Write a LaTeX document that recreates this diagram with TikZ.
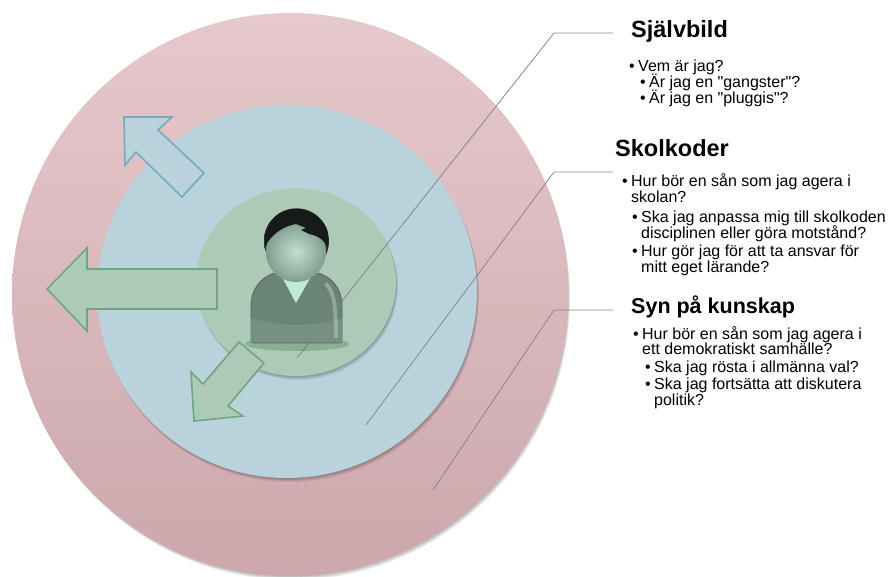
\documentclass[tikz,border=0pt]{standalone}
\usepackage{fontspec}
\setmainfont{Liberation Sans}

\definecolor{pinktop}{RGB}{230,201,204}
\definecolor{pinkbot}{RGB}{204,167,172}
\definecolor{bluering}{RGB}{185,211,220}
\definecolor{greenring}{RGB}{173,202,183}
\definecolor{blueedge}{RGB}{118,170,188}
\definecolor{greenedge}{RGB}{110,166,128}
\definecolor{leadgray}{RGB}{135,135,135}
\definecolor{bodygray}{RGB}{106,132,118}
\definecolor{bodylow}{RGB}{118,144,130}
\definecolor{bodyedge}{RGB}{84,104,94}
\definecolor{collar}{RGB}{196,232,214}
\definecolor{hairtop}{RGB}{72,80,76}
\definecolor{hairbot}{RGB}{22,26,24}
\definecolor{facelight}{RGB}{196,222,208}
\definecolor{facedark}{RGB}{128,158,143}

\newcommand{\bulletmark}{\llap{\textbullet\hspace{3.5pt}}}
\newcommand{\qt}{\textquotedbl}

\begin{document}
\begin{tikzpicture}[x=1pt, y=-1pt, line join=miter,
    ringshadow/.style = {fill=black, opacity=0.07},
    bluearrow/.style = {draw=blueedge, fill=bluering, line width=1.6pt},
    greenarrow/.style = {draw=greenedge, fill=greenring, line width=1.6pt},
    leader/.style = {draw=leadgray, line width=0.8pt},
    heading/.style = {anchor=base west, inner sep=0pt, font=\bfseries\fontsize{23.5}{24}\selectfont},
    bodytext/.style = {anchor=base west, inner sep=0pt, font=\fontsize{16}{16}\selectfont}]
  \useasboundingbox (0,0) rectangle (889,577);

  % rings
  \foreach \s in {1,2,3,4}
    \fill[ringshadow] (290+0.5*\s,294.5+\s) ellipse [x radius=278pt, y radius=281.5pt];
  \path[top color=pinktop, bottom color=pinkbot] (290,294.5) ellipse [x radius=278pt, y radius=281.5pt];
  \foreach \s in {1,2,3,4}
    \fill[ringshadow] (287+0.5*\s,291.5+\s) ellipse [x radius=190pt, y radius=186.5pt];
  \fill[bluering] (287,291.5) ellipse [x radius=190pt, y radius=186.5pt];
  \foreach \s in {1,2,3,4}
    \fill[ringshadow] (296+0.5*\s,282+\s) ellipse [x radius=100pt, y radius=94pt];
  \fill[greenring] (296,282) ellipse [x radius=100pt, y radius=94pt];

  % arrows
  \draw[bluearrow] (124,117) -- (172,117) -- (158,130) -- (204,173) -- (182,197) -- (136,152) -- (125,165) -- cycle;
  \draw[greenarrow] (47,289) -- (87,248) -- (87,269) -- (217,269) -- (217,309) -- (87,309) -- (87,331) -- cycle;
  \draw[greenarrow] (194,421) -- (191,372) -- (203,384) -- (239,342) -- (264,363) -- (228,406) -- (243,416) -- cycle;

  % leader behind the person
  \coordinate (selfIn) at (297,358);
  \coordinate (selfBend) at (554,33);
  \coordinate (selfEnd) at (613,33);
  \draw[leader] (selfIn) -- (selfBend) -- (selfEnd);

  % person
  \fill[black!70!green, opacity=0.2] (297,344) ellipse [x radius=52pt, y radius=7pt];
  \draw[fill=bodygray, draw=bodyedge, line width=0.8pt] (251,340) -- (251,305)
    .. controls (251,287) and (265,272) .. (283,272) -- (310,272)
    .. controls (328,272) and (342,287) .. (342,305) -- (342,340)
    .. controls (342,342) .. (340,343) -- (253,343) .. controls (251,342) .. (251,340) -- cycle;
  \begin{scope}
    \clip (251,340) -- (251,305) .. controls (251,287) and (265,272) .. (283,272) -- (310,272)
      .. controls (328,272) and (342,287) .. (342,305) -- (342,343) -- (251,343) -- cycle;
    \fill[bodylow] (250,318) .. controls (280,327) and (313,327) .. (343,318) -- (343,342.5) -- (250,342.5) -- cycle;
    \fill[white, opacity=0.28] (327,282) .. controls (335,290) and (338,302) .. (338,338)
      -- (334,338) .. controls (334,305) and (332,292) .. (324,285) -- cycle;
  \end{scope}
  \fill[collar] (276,266) -- (317,266) -- (296,303) -- cycle;
  \shade[top color=hairtop, bottom color=hairbot] (296.5,241) circle (32.5pt);
  \shade[inner color=facelight, outer color=facedark] (296,252) circle (30pt);
  \begin{scope}
    \clip (296.5,241) circle (32.5pt);
    \fill[hairbot] (265,247) .. controls (271,234) and (284,226) .. (296,224) -- (306,228) -- (301,230) -- (309,234)
      .. controls (316,235) and (322,238) .. (328,247) -- (330,205) -- (263,205) -- cycle;
  \end{scope}

  % other leaders
  \coordinate (schoolIn) at (366,425);
  \coordinate (schoolBend) at (554,172);
  \coordinate (schoolEnd) at (613,172);
  \draw[leader] (schoolIn) -- (schoolBend) -- (schoolEnd);
  \coordinate (viewIn) at (433,490);
  \coordinate (viewBend) at (554,310);
  \coordinate (viewEnd) at (613,310);
  \draw[leader] (viewIn) -- (viewBend) -- (viewEnd);

  % texts
  \node[heading] (selfTitle) at (631,38) {Självbild};
  \node[bodytext] (self1) at (638,72) {\bulletmark Vem är jag?};
  \node[bodytext] (self2) at (649,88) {\bulletmark Är jag en \qt gangster\qt?};
  \node[bodytext] (self3) at (649,104) {\bulletmark Är jag en \qt pluggis\qt?};

  \node[heading] (schoolTitle) at (615,157) {Skolkoder};
  \node[bodytext] (school1) at (631,187) {\bulletmark Hur bör en sån som jag agera i};
  \node[bodytext] (school1b) at (631,203) {skolan?};
  \node[bodytext] (school2) at (641,222.5) {\bulletmark Ska jag anpassa mig till skolkoden};
  \node[bodytext] (school2b) at (641,238.5) {disciplinen eller göra motstånd?};
  \node[bodytext] (school3) at (641,257) {\bulletmark Hur gör jag för att ta ansvar för};
  \node[bodytext] (school3b) at (641,273) {mitt eget lärande?};

  \node[heading, font=\bfseries\fontsize{21.5}{24}\selectfont] (viewTitle) at (631,314) {Syn på kunskap};
  \node[bodytext] (view1) at (642,339) {\bulletmark Hur bör en sån som jag agera i};
  \node[bodytext] (view1b) at (642,355) {ett demokratiskt samhälle?};
  \node[bodytext] (view2) at (654,372) {\bulletmark Ska jag rösta i allmänna val?};
  \node[bodytext] (view3) at (654,389) {\bulletmark Ska jag fortsätta att diskutera};
  \node[bodytext] (view3b) at (654,405) {politik?};
\end{tikzpicture}
\end{document}
